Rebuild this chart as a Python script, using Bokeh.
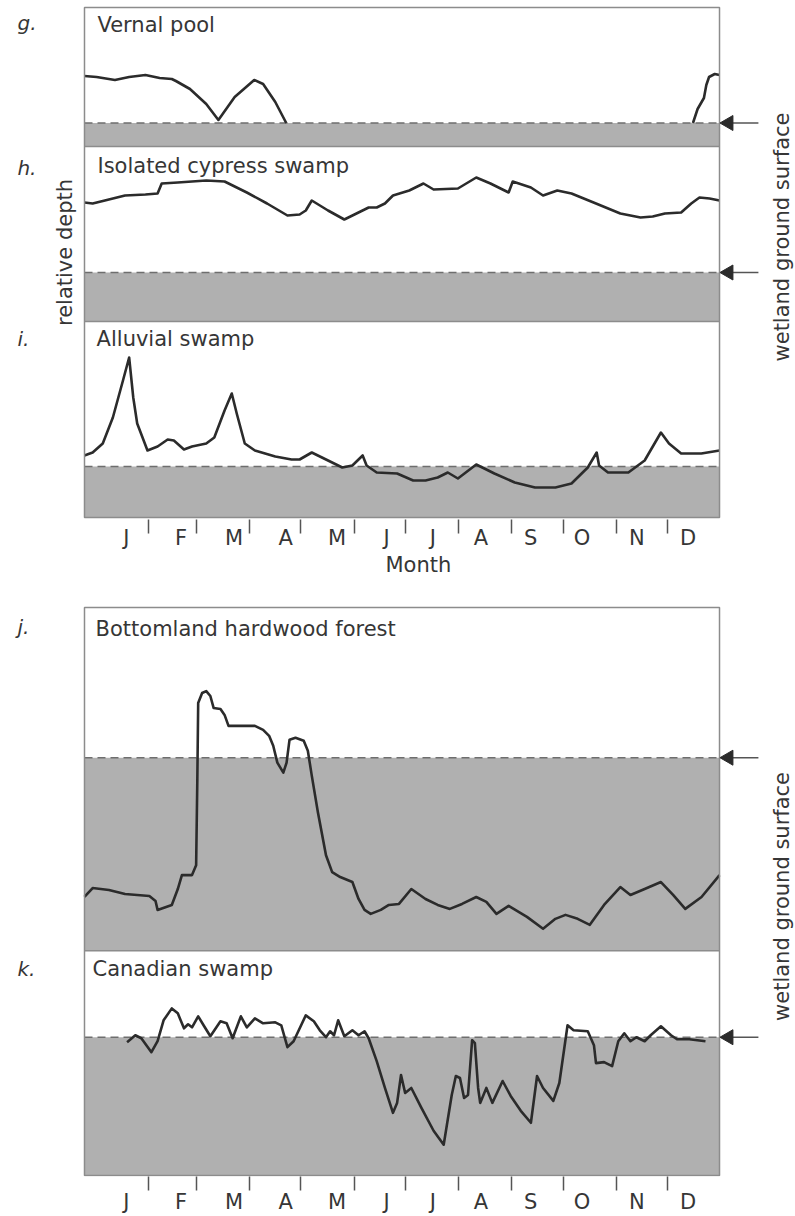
import math
from bokeh.plotting import figure
from bokeh.layouts import column
from bokeh.models import Range1d, FixedTicker, Label, Title
from bokeh.embed import file_html
from bokeh.resources import INLINE

nan = float("nan")

# ---------------- data (day of year, relative water depth; 0 = wetland ground surface) ----------------
month_letters = ["J", "F", "M", "A", "M", "J", "J", "A", "S", "O", "N", "D"]
month_label_days = [18, 50, 81, 111, 141, 170, 197, 225, 254, 284, 316, 346]
month_boundaries = [31, 59, 90, 120, 151, 181, 212, 243, 273, 304, 334]

vernal_day = [-6.4, 0.7, 11.4, 19.7, 29.2, 37.5, 44.6, 47.0, 55.2, 64.7, 71.8, 81.3, 92.7, 97.9,
              105.0, 111.4, nan, 348.8, 351.5, 355.2, 356.6, 358.2, 361.5, 364.3]
vernal_depth = [47, 46, 43, 46, 48, 45, 44, 42, 34, 19, 3, 26, 43, 39,
                21, 0, nan, 0, 14, 25, 38, 46, 49, 48]

cypress_day = [-6.4, -1.6, 5.5, 17.3, 29.2, 36.3, 38.7, 48.1, 64.7, 75.4, 88.4, 100.2, 112.1, 119.2,
               122.8, 126.3, 135.8, 145.3, 152.4, 159.5, 164.2, 169.0, 173.7, 183.2, 191.5, 197.4,
               211.6, 222.3, 230.6, 241.2, 243.6, 254.2, 261.3, 269.6, 277.9, 292.2, 306.4, 318.2,
               325.3, 332.4, 341.9, 347.8, 352.6, 358.5, 364.3]
cypress_depth = [70, 69, 72, 77, 78, 79, 89, 90, 92, 91, 80, 69, 57, 58,
                 62, 72, 62, 53, 59, 65, 65, 69, 77, 82, 89, 83,
                 84, 95, 89, 80, 91, 85, 77, 82, 79, 69, 59, 55,
                 56, 59, 60, 69, 75, 74, 72]

alluvial_day = [-6.4, -1.6, 4.3, 10.2, 16.1, 19.7, 22.1, 24.4, 30.4, 36.3, 42.2, 45.8, 51.7, 56.4,
                64.7, 69.4, 75.4, 79.6, 82.5, 87.2, 93.1, 105.0, 114.5, 119.2, 126.3, 135.8, 144.1,
                150.0, 156.0, 158.3, 164.2, 176.1, 185.5, 192.7, 199.8, 205.7, 211.6, 222.3, 232.9,
                244.8, 256.6, 268.5, 277.9, 287.4, 292.6, 294.0, 299.2, 311.1, 320.6, 330.1, 334.8,
                341.9, 353.7, 364.3]
alluvial_depth = [11, 14, 23, 49, 86, 109, 69, 43, 16, 20, 27, 26, 17, 20,
                  23, 29, 56, 73, 53, 23, 16, 10, 7, 7, 14, 6, -1,
                  1, 11, 1, -6, -7, -14, -14, -11, -6, -12, 2, -7,
                  -16, -21, -21, -17, -1, 14, 1, -6, -6, 6, 34, 23,
                  13, 13, 16]

bottomland_day = [-6.4, -1.6, 7.9, 17.3, 31.5, 35.1, 36.3, 44.6, 48.1, 50.5, 56.4, 58.8, 59.5, 60.0,
                  62.3, 64.7, 67.1, 69.0, 73.0, 75.4, 77.7, 83.7, 93.1, 97.9, 101.4, 103.8, 106.2,
                  109.7, 111.6, 113.3, 116.8, 121.6, 124.0, 126.3, 129.9, 134.6, 138.2, 142.9, 150.0,
                  153.6, 157.1, 160.7, 166.6, 171.3, 177.2, 184.4, 192.7, 199.8, 206.9, 214.0, 222.3,
                  228.2, 234.1, 241.2, 251.9, 261.3, 268.5, 274.4, 281.5, 288.6, 296.9, 306.4, 312.3,
                  320.6, 330.1, 337.2, 344.3, 353.8, 364.3]
bottomland_depth = [-140, -131, -133, -137, -139, -144, -153, -148, -132, -118, -118, -108, -22, 55,
                    65, 67, 62, 50, 49, 43, 32, 32, 32, 28, 22, 12, -5,
                    -15, -5, 18, 20, 17, 7, -18, -55, -98, -115, -120, -125,
                    -142, -153, -157, -153, -148, -147, -132, -142, -148, -152, -147, -140,
                    -145, -157, -149, -160, -172, -162, -158, -162, -168, -148, -130, -138,
                    -132, -125, -138, -152, -140, -118]

canadian_day = [18.5, 23.3, 26.8, 32.7, 36.3, 39.8, 44.6, 48.1, 51.7, 54.1, 56.4, 60.0, 63.5, 67.1,
                73.0, 76.6, 80.1, 84.9, 88.4, 93.1, 97.9, 105.0, 108.5, 112.1, 115.7, 122.8, 127.5,
                131.0, 134.6, 137.0, 139.3, 141.7, 145.3, 150.0, 153.6, 157.1, 159.5, 164.2, 169.0,
                173.7, 176.1, 178.4, 180.8, 184.4, 190.3, 197.4, 203.3, 208.0, 210.4, 212.8, 215.2,
                217.5, 219.9, 221.5, 223.4, 224.6, 228.2, 231.7, 237.7, 242.4, 248.3, 254.2, 257.8,
                261.3, 267.3, 270.8, 275.6, 279.1, 287.4, 291.0, 292.2, 296.9, 301.6, 305.2, 308.7,
                312.3, 315.8, 320.6, 324.1, 330.1, 336.0, 339.5, 346.6, 356.1]
canadian_depth = [-5, 2, -1, -15, -4, 17, 29, 24, 9, 13, 10, 21, 11, 1,
                  16, 14, -1, 21, 10, 19, 14, 15, 12, -10, -4, 22, 16,
                  7, 0, 6, 2, 17, 1, 7, 2, 6, -1, -24, -51,
                  -76, -66, -38, -56, -51, -71, -94, -108, -58, -39, -41, -61,
                  -58, -3, -6, -51, -66, -51, -66, -44, -59, -74, -86, -39,
                  -51, -64, -46, 12, 7, 6, -8, -26, -25, -29, -4, 4,
                  -4, 0, -4, 2, 11, 2, -2, -2, -4]

# ---------------- styling / layout ----------------
XMIN, XMAX = -55.39, 408.65      # full canvas width in day units
X0, X1 = -6.36, 364.3            # the drawn box
FONT = "DejaVu Sans"
TXT = "#363636"
GREY = "#b0b0b0"
CURVE = "#2b2b2b"
DASH = "#6e6e6e"
FRAME = "#8c8c8c"


def make_fig(height, bottom_border, default_range, standoff):
    p = figure(width=795, height=height, x_range=Range1d(XMIN, XMAX), y_range=Range1d(*default_range),
               output_backend="svg", toolbar_location=None, title=None,
               y_axis_location=None, x_axis_location="below",
               min_border_left=0, min_border_right=0, min_border_top=0,
               min_border_bottom=bottom_border)
    p.grid.visible = False
    p.outline_line_color = None
    p.background_fill_color = "white"
    p.border_fill_color = "white"
    ax = p.xaxis[0]
    ax.ticker = FixedTicker(ticks=month_label_days, minor_ticks=month_boundaries)
    ax.major_label_overrides = {float(d): m for d, m in zip(month_label_days, month_letters)}
    ax.major_tick_line_color = None
    ax.major_tick_in = 0
    ax.major_tick_out = 0
    ax.minor_tick_in = 0
    ax.minor_tick_out = 14
    ax.minor_tick_line_color = "#555555"
    ax.minor_tick_line_width = 1.5
    ax.axis_line_color = None
    ax.major_label_standoff = standoff
    ax.major_label_text_font = FONT
    ax.major_label_text_font_size = "21px"
    ax.major_label_text_color = TXT
    return p


def panel(p, rng, band_bottom, xs, ys, title, title_x, title_y, letter, letter_y, separator):
    p.quad(left=X0, right=X1, bottom=band_bottom, top=0, fill_color=GREY, line_color=None,
           y_range_name=rng)
    p.segment(x0=X0, x1=X1, y0=0, y1=0, line_color=DASH, line_width=1.5, line_dash="8 5",
              y_range_name=rng)
    if separator:
        p.segment(x0=X0, x1=X1, y0=band_bottom, y1=band_bottom, line_color=FRAME, line_width=1.5,
                  y_range_name=rng)
    p.line(xs, ys, line_color=CURVE, line_width=2.6, line_join="round", y_range_name=rng)
    p.add_layout(Label(x=title_x, y=title_y, text=title, y_range_name=rng,
                       text_font=FONT, text_font_size="21px", text_color=TXT,
                       text_baseline="middle", text_align="left"))
    p.add_layout(Label(x=-45.5, y=letter_y, text=letter, y_range_name=rng,
                       text_font=FONT, text_font_size="20px", text_font_style="italic",
                       text_color=TXT, text_baseline="middle", text_align="left"))


def box(p, rng, bottom, top):
    p.quad(left=X0, right=X1, bottom=bottom, top=top, fill_color=None, line_color=FRAME,
           line_width=1.5, y_range_name=rng)


def ground_arrow(p, rng):
    # shaft + solid head pointing at the ground-surface line
    p.segment(x0=370.0, x1=387.0, y0=0, y1=0, line_color="#555555", line_width=1.5,
              y_range_name=rng)
    p.scatter(x=[369.6], y=[0], marker="triangle", size=15, angle=math.pi / 2,
              fill_color="#2b2b2b", line_color="#2b2b2b", y_range_name=rng)


def side_text(p, rng, x, y, text):
    p.add_layout(Label(x=x, y=y, text=text, y_range_name=rng, angle=math.pi / 2,
                       text_font=FONT, text_font_size="21px", text_color=TXT,
                       text_align="center", text_baseline="middle"))


# ---------------- top figure: g, h, i ----------------
top = make_fig(605, 86, (-53, 466), -8)
top.extra_y_ranges = {"g": Range1d(-396.5, 122.5), "h": Range1d(-247, 272), "i": Range1d(-53, 466)}
panel(top, "g", -23.5, vernal_day, vernal_depth, "Vernal pool", 1.2, 98, "g.", 100.5, True)
panel(top, "h", -49, cypress_day, cypress_depth, "Isolated cypress swamp", 1.2, 107, "h.", 105, True)
panel(top, "i", -51, alluvial_day, alluvial_depth, "Alluvial swamp", 0.7, 127.5, "i.", 128, False)
box(top, "i", -51, 459)
ground_arrow(top, "g")
ground_arrow(top, "h")
side_text(top, "h", -17.5, 20, "relative depth")
side_text(top, "h", 400.5, 35.5, "wetland ground surface")
top.add_layout(Title(text="Month", align="left", offset=385, standoff=-4, text_font=FONT,
                     text_font_size="21px", text_font_style="normal", text_color=TXT), "below")

# ---------------- bottom figure: j, k ----------------
bot = make_fig(611, 37, (-140, 434), -1)
bot.extra_y_ranges = {"j": Range1d(-421, 153), "k": Range1d(-140, 434)}
panel(bot, "j", -194, bottomland_day, bottomland_depth, "Bottomland hardwood forest", 0.1, 129.5,
      "j.", 131, True)
panel(bot, "k", -139, canadian_day, canadian_depth, "Canadian swamp", -1.7, 69, "k.", 69, False)
box(bot, "k", -139, 432)
ground_arrow(bot, "j")
ground_arrow(bot, "k")
side_text(bot, "j", 400.5, -139.5, "wetland ground surface")

layout = column(top, bot, spacing=0)
open("out.html", "w").write(file_html(layout, INLINE))
